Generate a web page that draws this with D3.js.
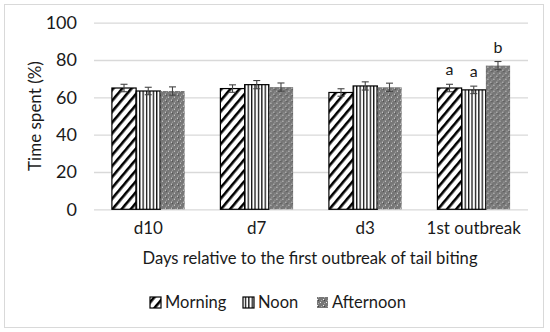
<!DOCTYPE html>
<html>
<head>
<script src="https://d3js.org/d3.v7.min.js"></script>
<style>
  body { margin: 0; background: #fff; }
  svg text { font-family: Lato, "Open Sans", sans-serif; fill: #1a1a1a; }
  .yax .tick text { font-size: 18px; }
  .xax .tick text { font-size: 17px; }
  .gridlines line { stroke: #d9d9d9; stroke-width: 1.3; }
  .gridlines .domain { stroke: none; }
</style>
</head>
<body>
<svg id="chart" width="550" height="332"></svg>
<script>
const categories = ["d10", "d7", "d3", "1st outbreak"];
const seriesNames = ["Morning", "Noon", "Afternoon"];
const morning = [65, 64.7, 62.6, 65];
const noon = [63.4, 66.8, 66.1, 64];
const afternoon = [63.4, 65.5, 65.4, 77];
const morningErr = [2, 2, 2, 2];
const noonErr = [2, 2.2, 2.2, 2];
const afternoonErr = [2.2, 2.2, 2.2, 2.2];
const letters = [["", "", ""], ["", "", ""], ["", "", ""], ["a", "a", "b"]];
const yTicks = [0, 20, 40, 60, 80, 100];

const values = [morning, noon, afternoon];
const errs = [morningErr, noonErr, afternoonErr];

const svg = d3.select("#chart");
const margin = { top: 22.7, left: 94, right: 22, bottom: 122.7 };
const width = 550, height = 332;
const chartW = width - margin.left - margin.right;
const chartH = height - margin.top - margin.bottom;

// patterns
const defs = svg.append("defs");
const pDiag = defs.append("pattern").attr("id", "pMorning")
  .attr("patternUnits", "userSpaceOnUse").attr("width", 7).attr("height", 7)
  .attr("patternTransform", "rotate(40)");
pDiag.append("rect").attr("width", 7).attr("height", 7).attr("fill", "#fff");
pDiag.append("rect").attr("x", 0).attr("width", 2.6).attr("height", 7).attr("fill", "#000");

const pVert = defs.append("pattern").attr("id", "pNoon")
  .attr("patternUnits", "userSpaceOnUse").attr("width", 3.4).attr("height", 4);
pVert.append("rect").attr("width", 3.4).attr("height", 4).attr("fill", "#fff");
pVert.append("rect").attr("width", 1.3).attr("height", 4).attr("fill", "#111");

const pDots = defs.append("pattern").attr("id", "pAfternoon")
  .attr("patternUnits", "userSpaceOnUse").attr("width", 6).attr("height", 6);
pDots.append("rect").attr("width", 6).attr("height", 6).attr("fill", "#777");
pDots.append("rect").attr("x", 0).attr("y", 0).attr("width", 1).attr("height", 1).attr("fill", "#444");
pDots.append("rect").attr("x", 2).attr("y", 2).attr("width", 1).attr("height", 1).attr("fill", "#eee");
pDots.append("rect").attr("x", 5).attr("y", 5).attr("width", 1).attr("height", 1).attr("fill", "#eee");
pDots.append("rect").attr("x", 3).attr("y", 0).attr("width", 1).attr("height", 1).attr("fill", "#aaa");
pDots.append("rect").attr("x", 0).attr("y", 3).attr("width", 1).attr("height", 1).attr("fill", "#aaa");

const fills = ["url(#pMorning)", "url(#pNoon)", "url(#pAfternoon)"];
const strokes = ["#000", "#000", "none"];

// frame
svg.append("rect").attr("x", 4.5).attr("y", 4.5).attr("width", 539).attr("height", 323)
  .attr("fill", "none").attr("stroke", "#d9d9d9");

const x0 = d3.scaleBand().domain(categories).range([0, chartW]).paddingInner(0.33).paddingOuter(0.165);
const x1 = d3.scaleBand().domain(seriesNames).range([0, x0.bandwidth()]);
const y = d3.scaleLinear().domain([0, 100]).range([chartH, 0]);

const plot = svg.append("g").attr("transform", `translate(${margin.left},${margin.top})`);

plot.append("g").attr("class", "gridlines")
  .call(d3.axisLeft(y).tickValues(yTicks).tickSize(-chartW).tickFormat(""));

const yAxis = plot.append("g").attr("class", "yax")
  .call(d3.axisLeft(y).tickValues(yTicks).tickSize(0).tickPadding(17));
yAxis.select(".domain").remove();

const xAxis = plot.append("g").attr("class", "xax").attr("transform", `translate(0,${chartH})`)
  .call(d3.axisBottom(x0).tickSize(0).tickPadding(13));
xAxis.select(".domain").remove();

const groups = plot.selectAll("g.grp").data(categories).join("g")
  .attr("class", "grp")
  .attr("transform", d => `translate(${x0(d)},0)`);

groups.each(function (cat, ci) {
  const g = d3.select(this);
  seriesNames.forEach((s, si) => {
    const v = values[si][ci];
    const e = errs[si][ci];
    const bx = x1(s);
    g.append("rect")
      .attr("x", bx).attr("y", y(v))
      .attr("width", x1.bandwidth()).attr("height", y(0) - y(v))
      .attr("fill", fills[si]).attr("stroke", strokes[si]).attr("stroke-width", 1.2);
    const cx = bx + x1.bandwidth() / 2;
    g.append("line").attr("x1", cx).attr("x2", cx).attr("y1", y(v + e)).attr("y2", y(v - e))
      .attr("stroke", "#444").attr("stroke-width", 1.1);
    [v + e, v - e].forEach(t => {
      g.append("line").attr("x1", cx - 3.5).attr("x2", cx + 3.5).attr("y1", y(t)).attr("y2", y(t))
        .attr("stroke", "#444").attr("stroke-width", 1.1);
    });
    const lab = letters[ci][si];
    if (lab) {
      g.append("text").attr("x", cx).attr("y", y(v + e) - 9)
        .attr("text-anchor", "middle").style("font-size", "16px").text(lab);
    }
  });
});

// axis titles
svg.append("text")
  .attr("transform", `translate(41,${margin.top + chartH / 2}) rotate(-90)`)
  .attr("text-anchor", "middle").style("font-size", "17px").text("Time spent (%)");

svg.append("text").attr("x", 310).attr("y", 264)
  .attr("text-anchor", "middle").style("font-size", "16.6px")
  .text("Days relative to the first outbreak of tail biting");

// legend
const legendX = [150, 243, 317];
const legend = svg.append("g");
seriesNames.forEach((s, i) => {
  legend.append("rect").attr("x", legendX[i]).attr("y", 297).attr("width", 11).attr("height", 11)
    .attr("fill", fills[i]).attr("stroke", strokes[i]).attr("stroke-width", 1.2);
  legend.append("text").attr("x", legendX[i] + 15).attr("y", 308)
    .style("font-size", "16.5px").text(s);
});
</script>
</body>
</html>
